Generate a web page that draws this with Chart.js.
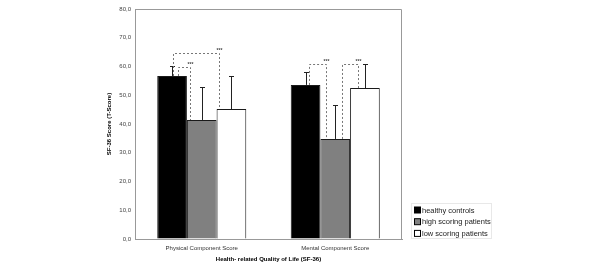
<!DOCTYPE html>
<html>
<head>
<meta charset="utf-8">
<script src="https://cdn.jsdelivr.net/npm/chart.js@4.4.0/dist/chart.umd.min.js"></script>
<style>
  body { margin: 0; background: #fff; }
  canvas { display: block; }
</style>
</head>
<body>
<canvas id="myChart" width="600" height="265"></canvas>
<script>
const categories = ["Physical Component Score", "Mental Component Score"]
const seriesNames = ["healthy controls", "high scoring patients", "low scoring patients"]
const healthy = [56.7, 53.6]
const highScoring = [41.4, 34.8]
const lowScoring = [45.2, 52.5]
// upper error (SD) read from the whiskers
const healthySD = [3.5, 4.5]
const highScoringSD = [11.5, 11.8]
const lowScoringSD = [11.5, 8.4]
const yTicks = [0, 10, 20, 30, 40, 50, 60, 70, 80]

// significance brackets: category, the two bars, the level of the dashed line
const brackets = [
  { cat: 0, from: 0, to: 1, level: 59.8, fromOff: 0.2, toOff: -0.4 },
  { cat: 0, from: 0, to: 2, level: 64.7, fromOff: 0.03, toOff: -0.43 },
  { cat: 1, from: 0, to: 1, level: 60.9, fromOff: 0.1, toOff: -0.3 },
  { cat: 1, from: 1, to: 2, level: 60.9, fromOff: 0.22, toOff: -0.23 }
]

const fills = ["#000000", "#808080", "#ffffff"]
const sds = [healthySD, highScoringSD, lowScoringSD]
const FONT = "'Liberation Sans', Arial, sans-serif"

const errorBars = {
  id: "errorBars",
  afterDatasetsDraw(chart) {
    const ctx = chart.ctx
    const y = chart.scales.y
    ctx.save()
    ctx.strokeStyle = "#222"
    ctx.lineWidth = 1
    chart.data.datasets.forEach((ds, i) => {
      chart.getDatasetMeta(i).data.forEach((el, j) => {
        const top = y.getPixelForValue(ds.data[j] + sds[i][j])
        const x = Math.round(el.x) + 0.5
        ctx.beginPath()
        ctx.moveTo(x, el.y)
        ctx.lineTo(x, Math.round(top) + 0.5)
        ctx.moveTo(x - 2.5, Math.round(top) + 0.5)
        ctx.lineTo(x + 2.5, Math.round(top) + 0.5)
        ctx.stroke()
      })
    })
    ctx.restore()
  }
}

const sigBrackets = {
  id: "sigBrackets",
  afterDatasetsDraw(chart) {
    const ctx = chart.ctx
    const y = chart.scales.y
    ctx.save()
    ctx.strokeStyle = "#777"
    ctx.lineWidth = 1
    ctx.setLineDash([2, 2])
    brackets.forEach(b => {
      const a = chart.getDatasetMeta(b.from).data[b.cat]
      const c = chart.getDatasetMeta(b.to).data[b.cat]
      const xa = Math.round(a.x + b.fromOff * a.width) + 0.5
      const xc = Math.round(c.x + b.toOff * c.width) + 0.5
      const yl = Math.round(y.getPixelForValue(b.level)) + 0.5
      ctx.beginPath()
      ctx.moveTo(xa, a.y)
      ctx.lineTo(xa, yl)
      ctx.lineTo(xc, yl)
      ctx.lineTo(xc, c.y)
      ctx.stroke()
      ctx.fillStyle = "#444"
      ctx.font = "bold 5px " + FONT
      ctx.textAlign = "center"
      ctx.textBaseline = "bottom"
      ctx.fillText("***", xc, yl - 0.5)
    })
    ctx.restore()
  }
}

const frame = {
  id: "frame",
  beforeDatasetsDraw(chart) {
    const { left, right, top, bottom } = chart.chartArea
    const ctx = chart.ctx
    ctx.save()
    ctx.strokeStyle = "#999"
    ctx.lineWidth = 1
    ctx.beginPath()
    ctx.moveTo(left, top + 0.5)
    ctx.lineTo(right - 0.5, top + 0.5)
    ctx.lineTo(right - 0.5, bottom)
    ctx.stroke()
    ctx.restore()
  }
}

const boxLegend = {
  id: "boxLegend",
  afterDraw(chart) {
    const ctx = chart.ctx
    const x0 = chart.chartArea.right + 9
    const y0 = 203
    ctx.save()
    ctx.strokeStyle = "#e8e8e8"
    ctx.lineWidth = 1
    ctx.strokeRect(x0 + 0.5, y0 + 0.5, 80, 35)
    ctx.font = "7.5px " + FONT
    ctx.textBaseline = "middle"
    ctx.textAlign = "left"
    chart.data.datasets.forEach((ds, i) => {
      const cy = y0 + 7 + i * 11.7
      ctx.fillStyle = ds.backgroundColor
      ctx.fillRect(x0 + 3.5, cy - 3, 6, 6)
      ctx.strokeStyle = "#000"
      ctx.strokeRect(x0 + 3.5, cy - 3, 6, 6)
      ctx.fillStyle = "#222"
      ctx.fillText(ds.label, x0 + 11, cy + 0.5)
    })
    ctx.restore()
  }
}

const myChartRef = document.getElementById("myChart").getContext("2d")
new Chart(myChartRef, {
  type: "bar",
  data: {
    labels: categories,
    datasets: [healthy, highScoring, lowScoring].map((d, i) => ({
      label: seriesNames[i],
      data: d,
      backgroundColor: fills[i],
      borderColor: "#1a1a1a",
      borderWidth: 1,
      barPercentage: 1,
      categoryPercentage: 0.667
    }))
  },
  options: {
    responsive: false,
    animation: false,
    layout: { padding: { left: 106, right: 198, top: 9, bottom: 0 } },
    plugins: { legend: { display: false }, tooltip: { enabled: false } },
    scales: {
      x: {
        grid: { display: false, drawTicks: false, tickLength: 0 },
        border: { color: "#999" },
        ticks: { color: "#333", font: { family: FONT, size: 6 }, padding: 6, maxRotation: 0 },
        title: {
          display: true,
          text: "Health- related Quality of Life (SF-36)",
          color: "#000",
          font: { family: FONT, size: 6, weight: "bold" },
          padding: { top: 0, bottom: 2 }
        },
        afterFit(s) { s.height = 26 }
      },
      y: {
        min: 0,
        max: 80,
        afterBuildTicks(s) { s.ticks = yTicks.map(v => ({ value: v })) },
        grid: { drawOnChartArea: false, drawTicks: false, tickLength: 0 },
        border: { color: "#999" },
        ticks: {
          color: "#444",
          font: { family: FONT, size: 6 },
          padding: 4,
          callback: v => v.toFixed(1).replace(".", ",")
        },
        title: {
          display: true,
          text: "SF-36 Score (T-Score)",
          color: "#000",
          font: { family: FONT, size: 6, weight: "bold" },
          padding: { top: 0, bottom: 0 }
        },
        afterFit(s) { s.width = 29 }
      }
    }
  },
  plugins: [frame, errorBars, sigBrackets, boxLegend]
})
</script>
</body>
</html>
